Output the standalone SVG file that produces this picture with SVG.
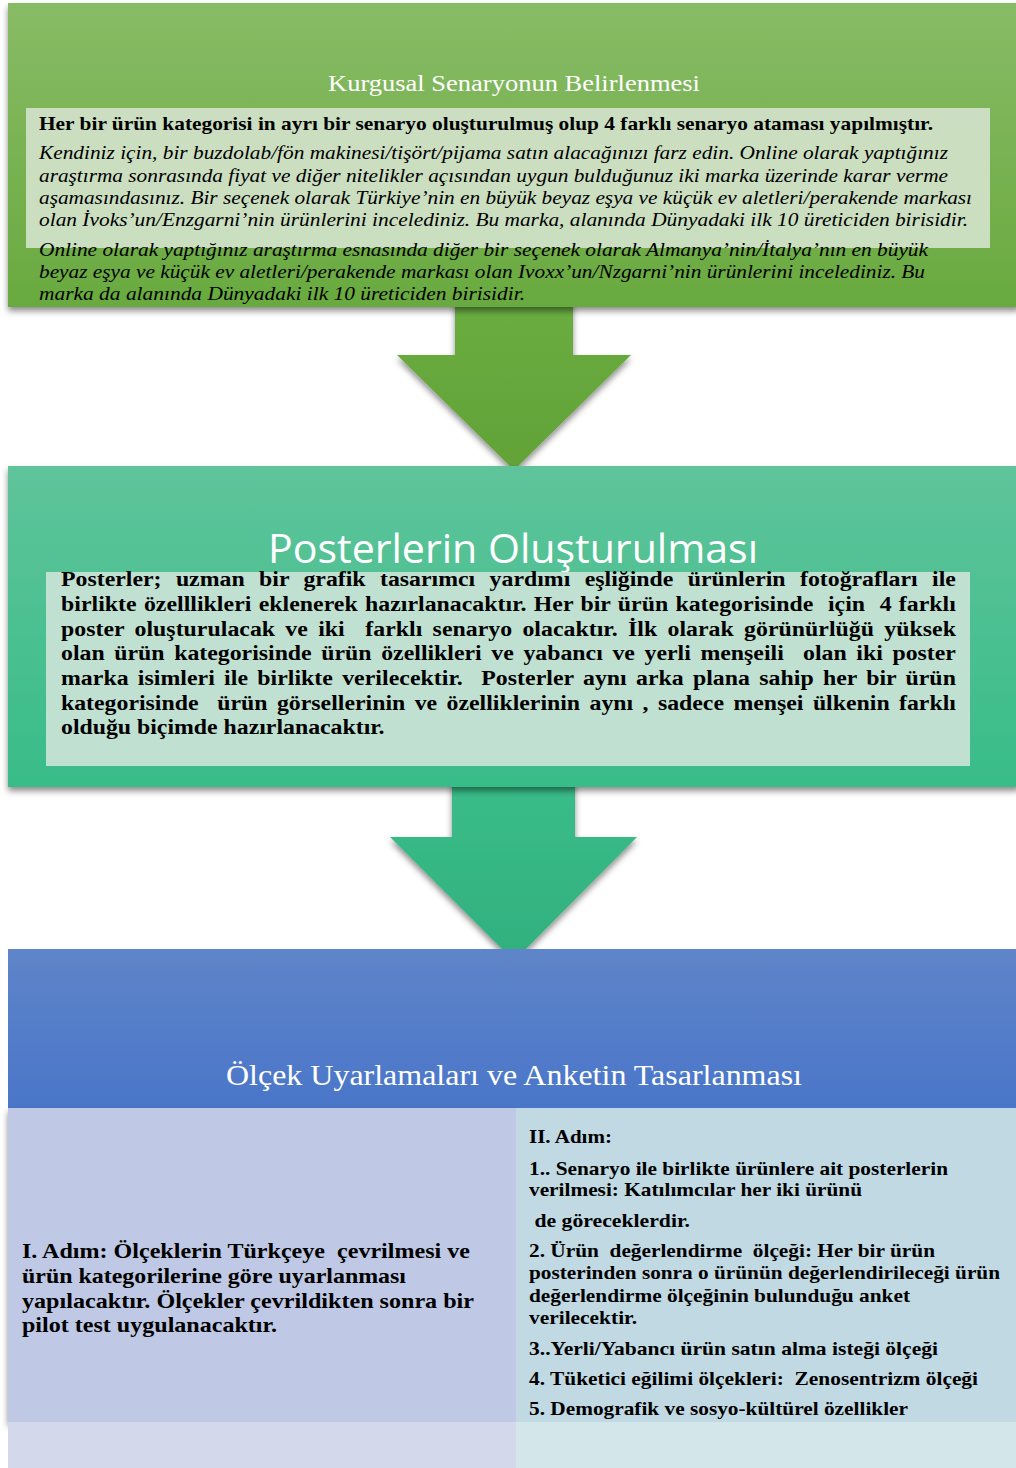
<svg xmlns="http://www.w3.org/2000/svg" width="1016" height="1468" viewBox="0 0 1016 1468">
  <defs>
    <linearGradient id="gGreen" x1="0" y1="0" x2="0" y2="1">
      <stop offset="0" stop-color="#88bb66"/>
      <stop offset="1" stop-color="#69aa3f"/>
    </linearGradient>
    <linearGradient id="gGreenArrow" x1="0" y1="0" x2="0" y2="1">
      <stop offset="0" stop-color="#6aad40"/>
      <stop offset="1" stop-color="#62a238"/>
    </linearGradient>
    <linearGradient id="gTeal" x1="0" y1="0" x2="0" y2="1">
      <stop offset="0" stop-color="#5fc49b"/>
      <stop offset="1" stop-color="#38bc88"/>
    </linearGradient>
    <linearGradient id="gTealArrow" x1="0" y1="0" x2="0" y2="1">
      <stop offset="0" stop-color="#3abd89"/>
      <stop offset="1" stop-color="#31b07e"/>
    </linearGradient>
    <linearGradient id="gBlue" x1="0" y1="0" x2="0" y2="1">
      <stop offset="0" stop-color="#5f85c9"/>
      <stop offset="1" stop-color="#4a76c9"/>
    </linearGradient>
    <filter id="shadow" x="-5%" y="-5%" width="110%" height="115%">
      <feDropShadow dx="0" dy="4" stdDeviation="3" flood-color="#000" flood-opacity="0.45"/>
    </filter>
  </defs>
  <style>
    .ttl { fill: #ffffff; text-anchor: middle; }
    .serif { font-family: "Liberation Serif", "Times New Roman", serif; }
    .b { font-weight: bold; fill: #000; }
    .it { font-style: italic; fill: #000; }
    text { white-space: pre; }
  </style>

  <rect width="1016" height="1468" fill="#ffffff"/>

  <!-- connectors: block arrows between the stages -->
  <g id="connectors">
    <polygon id="arrow1" filter="url(#shadow)" fill="url(#gGreenArrow)"
             points="455,300 573,300 573,355 631,355 514,470 397,355 455,355"/>
    <polygon id="arrow2" filter="url(#shadow)" fill="url(#gTealArrow)"
             points="452,780 575,780 575,837 637,837 514,961 390,837 452,837"/>
  </g>

  <!-- stage 1 -->
  <g id="node-senaryo">
    <rect x="8" y="3" width="1012" height="304" fill="url(#gGreen)" filter="url(#shadow)"/>
    <text class="ttl serif" x="514" y="91" font-size="23" textLength="372" lengthAdjust="spacingAndGlyphs">Kurgusal Senaryonun Belirlenmesi</text>
    <rect x="26" y="108" width="964" height="140" fill="#cddfc4" opacity="0.97"/>
    <g class="serif" font-size="19">
      <text class="b" x="39" y="130" textLength="894" lengthAdjust="spacingAndGlyphs">Her bir ürün kategorisi in ayrı bir senaryo oluşturulmuş olup 4 farklı senaryo ataması yapılmıştır.</text>
      <text class="it" x="39" y="159" textLength="909" lengthAdjust="spacingAndGlyphs">Kendiniz için, bir buzdolab/fön makinesi/tişört/pijama satın alacağınızı farz edin. Online olarak yaptığınız</text>
      <text class="it" x="39" y="182" textLength="909" lengthAdjust="spacingAndGlyphs">araştırma sonrasında fiyat ve diğer nitelikler açısından uygun bulduğunuz iki marka üzerinde karar verme</text>
      <text class="it" x="39" y="204" textLength="933" lengthAdjust="spacingAndGlyphs">aşamasındasınız. Bir seçenek olarak Türkiye’nin en büyük beyaz eşya ve küçük ev aletleri/perakende markası</text>
      <text class="it" x="39" y="226" textLength="929" lengthAdjust="spacingAndGlyphs">olan İvoks’un/Enzgarni’nin ürünlerini incelediniz. Bu marka, alanında Dünyadaki ilk 10 üreticiden birisidir.</text>
      <text class="it" x="39" y="256" textLength="889" lengthAdjust="spacingAndGlyphs">Online olarak yaptığınız araştırma esnasında diğer bir seçenek olarak Almanya’nin/İtalya’nın en büyük</text>
      <text class="it" x="39" y="278" textLength="886" lengthAdjust="spacingAndGlyphs">beyaz eşya ve küçük ev aletleri/perakende markası olan Ivoxx’un/Nzgarni’nin ürünlerini incelediniz. Bu</text>
      <text class="it" x="39" y="300" textLength="486" lengthAdjust="spacingAndGlyphs">marka da alanında Dünyadaki ilk 10 üreticiden birisidir.</text>
    </g>
  </g>

  <!-- stage 2 -->
  <g id="node-poster">
    <rect x="8" y="466" width="1012" height="321" fill="url(#gTeal)" filter="url(#shadow)"/>
    <text class="ttl" x="513" y="563" font-family="'Open Sans', 'Liberation Sans', sans-serif" font-size="40" textLength="490" lengthAdjust="spacingAndGlyphs">Posterlerin Oluşturulması</text>
    <rect x="46" y="572" width="924" height="194" fill="#c0e1d1"/>
    <!-- justified paragraph, glyphs widened 1.19x; word-spacing fills each line -->
    <g class="serif b" font-size="20" transform="translate(61,0) scale(1.19,1)">
      <text x="0" y="586" word-spacing="7.1" textLength="752" lengthAdjust="spacing">Posterler; uzman bir grafik tasarımcı yardımı eşliğinde ürünlerin fotoğrafları ile</text>
      <text x="0" y="611" word-spacing="1.1" textLength="752" lengthAdjust="spacing">birlikte özelllikleri eklenerek hazırlanacaktır. Her bir ürün kategorisinde  için  4 farklı</text>
      <text x="0" y="636" word-spacing="3.6" textLength="752" lengthAdjust="spacing">poster oluşturulacak ve iki  farklı senaryo olacaktır. İlk olarak görünürlüğü yüksek</text>
      <text x="0" y="660" word-spacing="3.1" textLength="752" lengthAdjust="spacing">olan ürün kategorisinde ürün özellikleri ve yabancı ve yerli menşeili  olan iki poster</text>
      <text x="0" y="685" word-spacing="2.7" textLength="752" lengthAdjust="spacing">marka isimleri ile birlikte verilecektir.  Posterler aynı arka plana sahip her bir ürün</text>
      <text x="0" y="710" word-spacing="2.9" textLength="752" lengthAdjust="spacing">kategorisinde  ürün görsellerinin ve özelliklerinin aynı , sadece menşei ülkenin farklı</text>
      <text x="0" y="734">olduğu biçimde hazırlanacaktır.</text>
    </g>
  </g>

  <!-- stage 3 -->
  <g id="node-olcek">
    <rect x="8" y="949" width="1012" height="159" fill="url(#gBlue)"/>
    <text class="ttl serif" x="514" y="1085" font-size="29" textLength="576" lengthAdjust="spacingAndGlyphs">Ölçek Uyarlamaları ve Anketin Tasarlanması</text>
    <rect x="8" y="1108" width="508" height="314" fill="#bfc9e5" filter="url(#shadow)"/>
    <rect x="516" y="1108" width="500" height="314" fill="#c1d9e3"/>
    <rect x="8" y="1422" width="508" height="46" fill="#d3d8eb"/>
    <rect x="516" y="1422" width="500" height="46" fill="#d3e6ea"/>
  </g>

  <g id="node-adim1" class="serif b" font-size="21">
    <text x="22" y="1258" textLength="448" lengthAdjust="spacingAndGlyphs">I. Adım: Ölçeklerin Türkçeye  çevrilmesi ve</text>
    <text x="22" y="1283" textLength="384" lengthAdjust="spacingAndGlyphs">ürün kategorilerine göre uyarlanması</text>
    <text x="22" y="1308" textLength="452" lengthAdjust="spacingAndGlyphs">yapılacaktır. Ölçekler çevrildikten sonra bir</text>
    <text x="22" y="1332" textLength="255" lengthAdjust="spacingAndGlyphs">pilot test uygulanacaktır.</text>
  </g>

  <g id="node-adim2" class="serif b" font-size="19">
    <text x="529" y="1143" textLength="83" lengthAdjust="spacingAndGlyphs">II. Adım:</text>
    <text x="529" y="1175" textLength="419" lengthAdjust="spacingAndGlyphs">1.. Senaryo ile birlikte ürünlere ait posterlerin</text>
    <text x="529" y="1196" textLength="333" lengthAdjust="spacingAndGlyphs">verilmesi: Katılımcılar her iki ürünü</text>
    <text x="529" y="1227" textLength="161" lengthAdjust="spacingAndGlyphs"> de göreceklerdir.</text>
    <text x="529" y="1257" textLength="406" lengthAdjust="spacingAndGlyphs">2. Ürün  değerlendirme  ölçeği: Her bir ürün</text>
    <text x="529" y="1279" textLength="471" lengthAdjust="spacingAndGlyphs">posterinden sonra o ürünün değerlendirileceği ürün</text>
    <text x="529" y="1302" textLength="381" lengthAdjust="spacingAndGlyphs">değerlendirme ölçeğinin bulunduğu anket</text>
    <text x="529" y="1324" textLength="108" lengthAdjust="spacingAndGlyphs">verilecektir.</text>
    <text x="529" y="1355" textLength="409" lengthAdjust="spacingAndGlyphs">3..Yerli/Yabancı ürün satın alma isteği ölçeği</text>
    <text x="529" y="1385" textLength="449" lengthAdjust="spacingAndGlyphs">4. Tüketici eğilimi ölçekleri:  Zenosentrizm ölçeği</text>
    <text x="529" y="1415" textLength="379" lengthAdjust="spacingAndGlyphs">5. Demografik ve sosyo-kültürel özellikler</text>
  </g>
</svg>
